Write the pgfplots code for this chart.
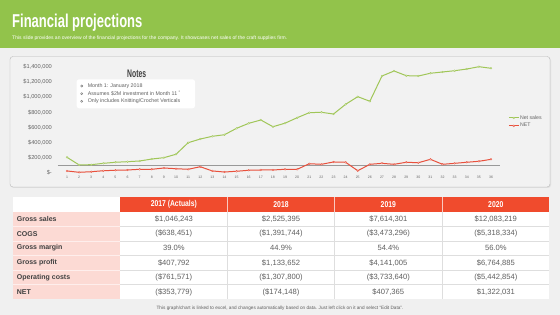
\documentclass[border=0pt]{standalone}
\usepackage{pgfplots}
\usepackage{pgfplotstable}
\usepackage{graphicx}
\pgfplotsset{compat=1.18}
\usepackage{fontspec}
\setmainfont{Liberation Sans}
\definecolor{hdrgreen}{RGB}{146,195,75}
\definecolor{pagebg}{RGB}{240,240,240}
\definecolor{chartbg}{RGB}{242,242,242}
\definecolor{salesgreen}{RGB}{160,198,88}
\definecolor{netred}{RGB}{232,80,60}
\definecolor{tickgray}{RGB}{100,100,100}
\definecolor{tblred}{RGB}{240,75,45}
\definecolor{tblpink}{RGB}{252,218,212}
\definecolor{txtgray}{RGB}{95,95,95}
\definecolor{lbldark}{RGB}{64,64,64}
\definecolor{sepgray}{RGB}{222,222,222}

\pgfplotstableread{
m sales net
1 106000 -75000
2 5000 -93000
3 8000 -85000
4 26000 -72000
5 40000 -66000
6 48000 -62000
7 57000 -53000
8 83000 -53000
9 101000 -36000
10 146000 -45000
11 299000 -53000
12 348000 -19000
13 384000 -75000
14 405000 -89000
15 490000 -79000
16 556000 -66000
17 600000 -62000
18 511000 -62000
19 558000 -53000
20 630000 -53000
21 697000 21000
22 702000 13000
23 679000 44000
24 808000 40000
25 909000 -72000
26 848000 13000
27 1183000 26000
28 1249000 13000
29 1187000 40000
30 1183000 34000
31 1219000 79000
32 1236000 13000
33 1253000 26000
34 1275000 40000
35 1306000 53000
36 1285000 79000
}\chartdata

\begin{document}
\begin{tikzpicture}
\useasboundingbox (0,0) rectangle (560pt,-315pt);
\begin{scope}[x=1pt,y=-1pt]
% backgrounds
\fill[pagebg] (0,0) rectangle (560,315);
\fill[hdrgreen] (0,0) rectangle (560,48.3);
\node[anchor=base west, inner sep=0, text=white] at (12,27.3)
  {\scalebox{0.7}[1]{\fontsize{18.6}{20}\selectfont\bfseries Financial projections}};
\node[anchor=base west, inner sep=0, text=white] at (12,39.6)
  {\fontsize{5}{6}\selectfont This slide provides an overview of the financial projections for the company. It showcases net sales of the craft supplies firm.};
% chart panel
\fill[black!12, rounded corners=3pt] (11,57.5) rectangle (551,188);
\draw[draw=black!28, fill=chartbg, rounded corners=3pt] (10,56.5) rectangle (550,187);
% notes box
\fill[white, rounded corners=2.5pt] (76.7,79.3) rectangle (195,108.3);
\node[inner sep=0, text=lbldark] at (136.7,73.3)
  {\scalebox{0.62}[1]{\fontsize{11}{12}\selectfont\bfseries Notes}};
\foreach \yy/\tt in {86/{Month 1: January 2018},93.7/{Assumes \$2M investment  in Month 11 \textsuperscript{*}},101.3/{Only includes Knitting/Crochet Verticals}}{
  \draw[txtgray, line width=0.3pt] (81.7,\yy) circle (1.1);
  \node[anchor=west, inner sep=0, text=txtgray] at (87.6,\yy) {\fontsize{5.3}{6}\selectfont \tt};
}
% table
\fill[white] (12.7,197.3) rectangle (120,211.7);
\fill[tblred] (120,197.3) rectangle (549.3,211.7);
\fill[tblpink] (12.7,211.7) rectangle (120,299.3);
\fill[white] (120,211.7) rectangle (549.3,299.3);
\foreach \xx in {227.7,334.3,442.3}{
  \draw[white!70!tblred, line width=0.5pt] (\xx,197.3) -- (\xx,211.7);
  \draw[sepgray, line width=0.5pt] (\xx,211.7) -- (\xx,299.3);
}
\foreach \yy in {226.3,240.9,255.5,270.1,284.7}{
  \draw[sepgray, line width=0.5pt] (120,\yy) -- (549.3,\yy);
  \draw[white!55!tblpink, line width=0.5pt] (12.7,\yy) -- (120,\yy);
}
\foreach \xx/\tt in {173.85/{2017 (Actuals)},281/{2018},388.3/{2019},495.8/{2020}}{
  \node[inner sep=0, text=white] at (\xx,204.5)
    {\scalebox{0.8}[1]{\fontsize{8.5}{9}\selectfont\bfseries \tt}};
}
\foreach \yy/\tt in {219/{Gross sales},233.6/{COGS},248.2/{Gross margin},262.8/{Gross profit},277.4/{Operating costs},292/{NET}}{
  \node[anchor=west, inner sep=0, text=lbldark] at (16.7,\yy) {\fontsize{7}{8}\selectfont\bfseries \tt};
}
\foreach \yy/\a/\b/\c/\d in {
  219/{\$1,046,243}/{\$2,525,395}/{\$7,614,301}/{\$12,083,219},
  233.6/{(\$638,451)}/{(\$1,391,744)}/{(\$3,473,296)}/{(\$5,318,334)},
  248.2/{39.0\%}/{44.9\%}/{54.4\%}/{56.0\%},
  262.8/{\$407,792}/{\$1,133,652}/{\$4,141,005}/{\$6,764,885},
  277.4/{(\$761,571)}/{(\$1,307,800)}/{(\$3,733,640)}/{(\$5,442,854)},
  292/{(\$353,779)}/{(\$174,148)}/{\$407,365}/{\$1,322,031}}{
  \node[inner sep=0, text=txtgray] at (173.85,\yy) {\fontsize{7.6}{8}\selectfont \a};
  \node[inner sep=0, text=txtgray] at (281,\yy) {\fontsize{7.6}{8}\selectfont \b};
  \node[inner sep=0, text=txtgray] at (388.3,\yy) {\fontsize{7.6}{8}\selectfont \c};
  \node[inner sep=0, text=txtgray] at (495.8,\yy) {\fontsize{7.6}{8}\selectfont \d};
}
\node[inner sep=0, text=txtgray] at (280,308.3)
  {\fontsize{4.7}{5}\selectfont This graph/chart is linked to excel, and changes automatically based on data. Just left click on it and select \char"201C Edit Data\char"201D.};
\end{scope}

\begin{axis}[
  at={(57.9pt,-173.6pt)}, anchor=south west,
  scale only axis, width=442.2pt, height=114pt,
  xmin=0.25, xmax=36.75, ymin=-110000, ymax=1400000,
  axis line style={draw=none}, tick style={draw=none},
  major tick length=0pt,
  /pgf/number format/assume math mode=true,
  xtick={1,...,36},
  ytick={0,200000,400000,600000,800000,1000000,1200000,1400000},
  yticklabels={{\$-},{\$200,000},{\$400,000},{\$600,000},{\$800,000},{\$1,000,000},{\$1,200,000},{\$1,400,000}},
  scaled y ticks=false,
  yticklabel style={font=\fontsize{5.7}{6}\selectfont, text=tickgray, yshift=-7.4pt, xshift=-2.5pt},
  xticklabel style={font=\fontsize{3.5}{4}\selectfont, text=tickgray, yshift=1pt},
  legend style={at={(1.018,0.454)}, anchor=west, draw=none, fill=none,
    font=\fontsize{5.2}{6}\selectfont, text=tickgray, row sep=1.2pt, inner sep=0pt,
    nodes={inner sep=0.8pt}},
  legend cell align=left,
  legend image code/.code={\draw[mark repeat=2,mark phase=2,#1] plot coordinates {(0pt,0pt) (5pt,0pt) (10pt,0pt)};},
]
\draw[black!40, line width=0.5pt] (axis cs:0.25,0) -- (axis cs:36.75,0);
\addplot[salesgreen, line width=1pt, mark=*, mark size=0.9pt, mark options={fill=white, line width=0.35pt}] table[x=m,y=sales]{\chartdata};
\addlegendentry{Net sales}
\addplot[netred, line width=1pt, mark=*, mark size=0.9pt, mark options={fill=white, line width=0.35pt}] table[x=m,y=net]{\chartdata};
\addlegendentry{NET}
\end{axis}
\end{tikzpicture}
\end{document}
